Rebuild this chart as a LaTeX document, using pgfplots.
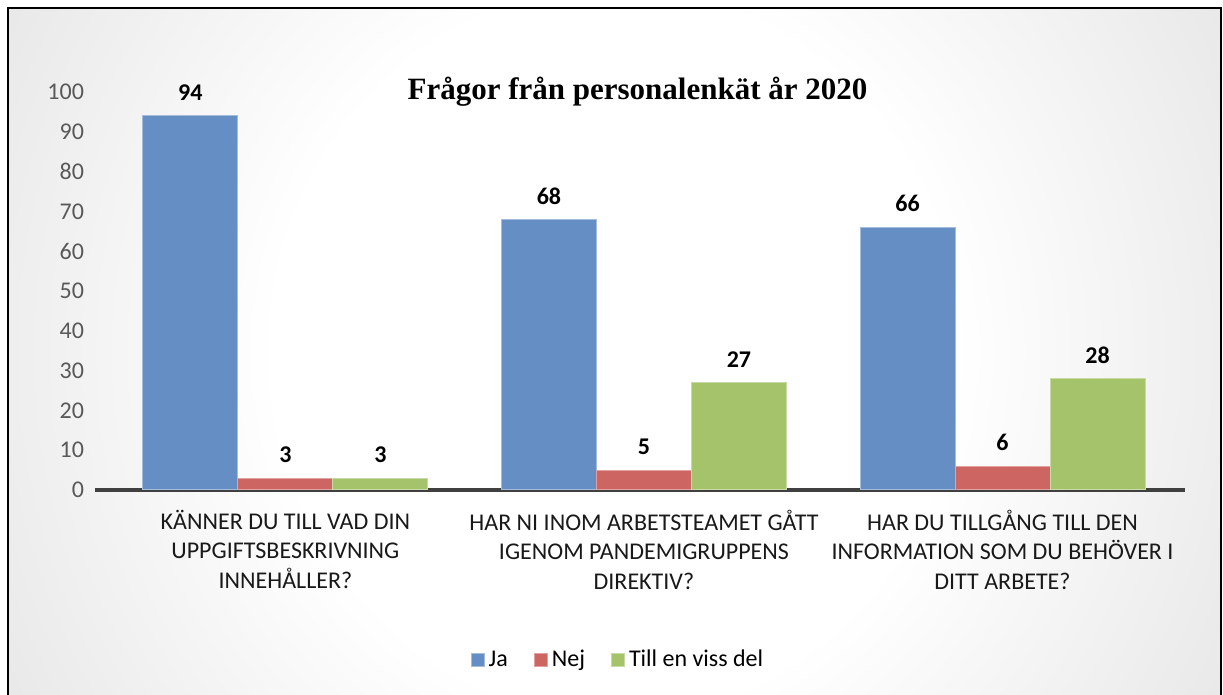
\documentclass[border=0pt]{standalone}
\usepackage{fontspec}
\setmainfont{Carlito}
\newfontfamily\titlefont{Liberation Serif}
\usepackage{pgfplots}
\pgfplotsset{compat=1.18}
\definecolor{cja}{HTML}{658FC4}
\definecolor{cnej}{HTML}{CD6662}
\definecolor{ctill}{HTML}{A4C36B}
\pgfdeclareradialshading{bgshade}{\pgfpoint{0bp}{0bp}}{color(0bp)=(white); color(14bp)=(white); color(50bp)=(black!22); color(56bp)=(black!22)}
\newcommand{\tf}{\fontsize{12}{14.75}\selectfont}
\begin{document}
\begin{tikzpicture}
\useasboundingbox (0,0) rectangle (611.5pt,347.5pt);
\fill[white] (0,0) rectangle (611.5pt,347.5pt);
\begin{scope}
\clip (4pt,0) rectangle (610.5pt,343.5pt);
\shade[shading=bgshade] (4pt,-148.25pt) rectangle (610.5pt,491.75pt);
\end{scope}
\draw[line width=1.2pt] (4pt,-2pt) rectangle (610.5pt,343.5pt);
\node[anchor=base, inner sep=0pt, font=\titlefont\bfseries\fontsize{15.5}{18}\selectfont] at (318.75pt,297.5pt) {Frågor från personalenkät år 2020};
\begin{axis}[
  at={(47.5pt,102.5pt)}, anchor=south west,
  scale only axis, width=545pt, height=199pt,
  xmin=-0.531, xmax=2.509, ymin=0, ymax=100,
  clip=false,
  /pgf/number format/assume math mode=true,
  axis x line=bottom, axis y line=left,
  y axis line style={draw=none},
  x axis line style={draw=black!75, line width=1.6pt, -},
  major tick length=0pt,
  ytick={0,10,...,100},
  yticklabel style={font=\tf, text=black!65, xshift=-2pt},
  xtick={0,1,2},
  xticklabels={{KÄNNER DU TILL VAD DIN\\UPPGIFTSBESKRIVNING\\INNEHÅLLER?},{HAR NI INOM ARBETSTEAMET GÅTT\\IGENOM PANDEMIGRUPPENS\\DIREKTIV?},{HAR DU TILLGÅNG TILL DEN\\INFORMATION SOM DU BEHÖVER I\\DITT ARBETE?}},
  xticklabel style={font=\tf, text=black!90, align=center, yshift=-6.5pt},
  ybar=0pt, bar width=47.5pt,
  nodes near coords,
  every node near coord/.append style={font=\tf\bfseries, text=black, anchor=south, yshift=4pt},
  legend style={at={(0.4807,-0.427)}, anchor=center, draw=none, fill=none, font=\tf,
    legend columns=-1, /tikz/every even column/.append style={column sep=11pt}},
  every axis plot/.append style={legend image code/.code={\fill[##1] (0pt,-3.25pt) rectangle (6.5pt,3.25pt);}},
]
\addplot[fill=cja, draw=cja!60!white, line width=0.5pt] coordinates {(0,94) (1,68) (2,66)};
\addplot[fill=cnej, draw=cnej!60!white, line width=0.5pt] coordinates {(0,3) (1,5) (2,6)};
\addplot[fill=ctill, draw=ctill!60!white, line width=0.5pt] coordinates {(0,3) (1,27) (2,28)};
\legend{Ja,Nej,Till en viss del}
\end{axis}
\end{tikzpicture}
\end{document}
